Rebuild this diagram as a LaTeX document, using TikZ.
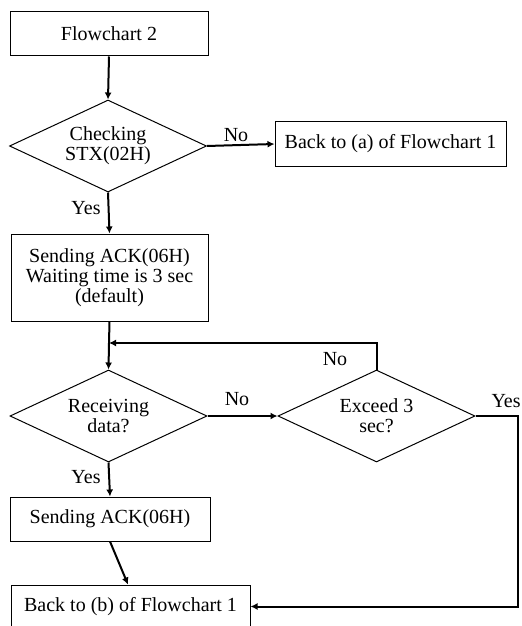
\documentclass[tikz,border=0pt]{standalone}
\usepackage{fontspec}
\setmainfont{Liberation Serif}
\usetikzlibrary{shapes.geometric,arrows.meta}
\begin{document}
\begin{tikzpicture}[x=0.5pt,y=-0.5pt,
  every node/.style={font=\fontsize{10}{10}\selectfont},
  boxnode/.style={draw,line width=0.5pt,rectangle,inner sep=0pt,align=center},
  decision/.style={draw,line width=0.5pt,diamond,inner sep=0pt,aspect=2.14,align=center,minimum width=98.5pt,minimum height=46pt},
  flow/.style={line width=1pt,-{Latex[length=3.5pt,width=3.5pt]}},
  plain/.style={line width=1pt},
  lbl/.style={inner sep=0pt}]
\useasboundingbox (0,0) rectangle (521,626);
\node[boxnode,minimum width=99pt,minimum height=22pt] (f2) at (109,34) {Flowchart 2};
\node[decision] (d1) at (108,146) {Checking\\STX(02H)};
\node[boxnode,minimum width=115.5pt,minimum height=22pt] (ba) at (390.5,144) {Back to (a) of Flowchart 1};
\node[boxnode,minimum width=98.5pt,minimum height=43.5pt] (s1) at (109.5,277.5) {Sending ACK(06H)\\Waiting time is 3 sec\\(default)};
\node[decision] (d2) at (108.5,416) {Receiving\\data?};
\node[decision] (d3) at (376.5,416) {Exceed 3\\sec?};
\node[boxnode,minimum width=100pt,minimum height=22pt] (s2) at (110,519) {Sending ACK(06H)};
\node[boxnode,minimum width=119.5pt,minimum height=21.5pt] (bb) at (130.5,606.5) {Back to (b) of Flowchart 1};
\coordinate (j) at (109,343);
\coordinate (t3) at (376.5,343);
\coordinate (r1) at (518,416);
\coordinate (r2) at (518,606.5);
\draw[flow] (f2.south) -- (d1.north);
\draw[flow] (d1.east) -- (ba.west);
\draw[flow] (d1.south) -- (s1.north);
\draw[plain] (s1.south) -- (j);
\draw[flow] (j) -- (d2.north);
\draw[flow] (d3.north) -- (t3) -- (j);
\draw[flow] (d2.east) -- (d3.west);
\draw[flow] (d2.south) -- (s2.north);
\draw[flow] (s2.south) -- (bb.north -| 128,0);
\draw[flow] (d3.east) -- (r1) -- (r2) -- (bb.east);
\node[lbl] (n1) at (236,135) {No};
\node[lbl] (y1) at (86,208) {Yes};
\node[lbl] (n2) at (237,399) {No};
\node[lbl] (n3) at (335,359) {No};
\node[lbl,anchor=east] (y3) at (521,401) {Yes};
\node[lbl] (y2) at (86,477) {Yes};
\end{tikzpicture}
\end{document}
